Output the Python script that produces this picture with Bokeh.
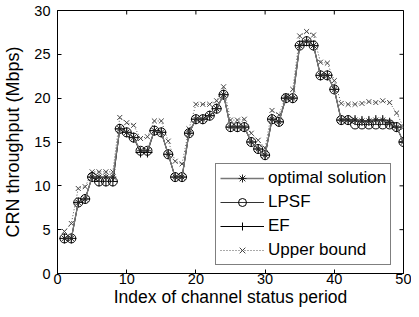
import math
from bokeh.plotting import figure
from bokeh.models import FixedTicker, Range1d, Legend, LegendItem
from bokeh.embed import file_html
from bokeh.resources import INLINE

period = list(range(1, 51))
optimal = [4, 4, 8.1, 8.5, 11, 11, 11, 11, 16.5, 16.1,
           15.5, 14, 14, 16.3, 16.1, 13.6, 11, 11, 16, 17.6,
           17.6, 18, 18.8, 20.4, 16.7, 16.7, 16.7, 15, 14.2, 13.5,
           17.6, 17.3, 20, 20, 26, 26.5, 26, 22.6, 22.6, 21,
           17.5, 17.5, 17.5, 17.4, 17.4, 17.5, 17.5, 17.2, 16.7, 15]
lpsf = [4, 4, 8.1, 8.5, 11, 10.5, 10.5, 10.5, 16.5, 16.1,
        15.5, 14, 14, 16.3, 16.1, 13.6, 11, 11, 16, 17.6,
        17.6, 18, 18.8, 20.4, 16.7, 16.7, 16.7, 15, 14.2, 13.5,
        17.6, 17.3, 20, 20, 26, 26.5, 26, 22.6, 22.6, 21,
        17.5, 17.5, 17, 17, 17, 17, 17, 17, 16.7, 15]
ef = [4, 4, 8.1, 8.5, 11, 10.5, 10.5, 10.5, 16.5, 16.1,
      15.5, 13.8, 13.8, 16.3, 16.1, 13.6, 11, 11, 16, 17.6,
      17.6, 18, 18.8, 20.4, 16.7, 16.7, 16.7, 15, 14.2, 13.5,
      17.6, 17.3, 20, 20, 26, 26.5, 26, 22.6, 22.6, 21,
      17.5, 17.5, 17.5, 17.4, 17.4, 17.5, 17.5, 17.2, 16.7, 15]
upper = [4.8, 5.7, 9.7, 9.9, 11.6, 11.6, 11.6, 11.6, 17.8, 17.2,
         16.9, 15.4, 15.6, 17.4, 17.4, 15.1, 12.8, 12.5, 16.5, 19.3,
         19.3, 19.3, 19.7, 21.3, 17.5, 17.5, 17.6, 16, 15.2, 14.3,
         18.6, 18.1, 20.2, 21, 27.1, 27.6, 27.2, 24.1, 24, 22,
         19.4, 19.3, 19.3, 19.4, 19.6, 19.5, 19.7, 19.5, 18.3, 16.7]

x_ticks = [0, 10, 20, 30, 40, 50]
y_ticks = [0, 5, 10, 15, 20, 25, 30]
x_max = 50
y_max = 30

FONT = "Liberation Sans"

p = figure(width=411, height=309, output_backend="svg", toolbar_location=None,
           x_range=Range1d(0, x_max), y_range=Range1d(0, y_max),
           min_border_left=57, min_border_right=8, min_border_top=10, min_border_bottom=30)
p.xgrid.visible = False
p.ygrid.visible = False
p.outline_line_color = "black"
p.outline_line_width = 1
p.background_fill_color = "white"
p.border_fill_color = "white"

for ax in (p.xaxis[0], p.yaxis[0]):
    ax.major_tick_in = 4
    ax.major_tick_out = 0
    ax.minor_tick_in = 0
    ax.minor_tick_out = 0
    ax.axis_line_color = "black"
    ax.major_tick_line_color = "black"
    ax.major_label_text_font = FONT
    ax.major_label_text_font_size = "14.5px"
    ax.major_label_text_color = "black"
    ax.axis_label_text_font = FONT
    ax.axis_label_text_font_style = "normal"
    ax.axis_label_text_color = "black"
p.xaxis[0].ticker = FixedTicker(ticks=x_ticks)
p.yaxis[0].ticker = FixedTicker(ticks=y_ticks)
p.xaxis[0].axis_label = "Index of channel status period"
p.yaxis[0].axis_label = "CRN throughput (Mbps)"
p.xaxis[0].axis_label_text_font_size = "17.5px"
p.yaxis[0].axis_label_text_font_size = "18px"
p.xaxis[0].major_label_standoff = 0
p.xaxis[0].axis_label_standoff = 0
p.yaxis[0].major_label_standoff = 7
p.yaxis[0].axis_label_standoff = 8

# mirrored inward ticks on top and right edges (drawn from the tick lists)
p.scatter(x_ticks, [y_max] * len(x_ticks), marker="dash", angle=math.pi / 2, size=8,
          line_color="black", line_width=1)
p.scatter([x_max] * len(y_ticks), y_ticks, marker="dash", size=8,
          line_color="black", line_width=1)

# Upper bound
r_ul = p.line(period, upper, line_color="#555555", line_width=1, line_dash="1 2")
r_us = p.scatter(period, upper, marker="x", size=7, line_color="#444444", line_width=1)
# EF
r_el = p.line(period, ef, line_color="black", line_width=1)
r_es = p.scatter(period, ef, marker="cross", size=10, line_color="black", line_width=1)
# LPSF
r_ll = p.line(period, lpsf, line_color="#333333", line_width=1)
r_ls = p.scatter(period, lpsf, marker="circle", size=9, fill_color=None,
                 line_color="black", line_width=1)
# optimal
r_ol = p.line(period, optimal, line_color="#777777", line_width=1.3)
r_os = p.scatter(period, optimal, marker="asterisk", size=7, line_color="#222222", line_width=1)

legend = Legend(items=[
    LegendItem(label="optimal solution", renderers=[r_ol, r_os]),
    LegendItem(label="LPSF", renderers=[r_ll, r_ls]),
    LegendItem(label="EF", renderers=[r_el, r_es]),
    LegendItem(label="Upper bound", renderers=[r_ul, r_us]),
], location=(158, 8))
legend.label_text_font = FONT
legend.label_text_font_size = "17px"
legend.label_text_color = "black"
legend.glyph_width = 44
legend.glyph_height = 20
legend.label_height = 20
legend.spacing = 4
legend.padding = 4
legend.margin = 0
legend.label_standoff = 4
legend.border_line_color = "black"
legend.border_line_width = 1
legend.background_fill_color = "white"
legend.background_fill_alpha = 1
p.add_layout(legend, "center")

open("out.html", "w").write(file_html(p, INLINE))
